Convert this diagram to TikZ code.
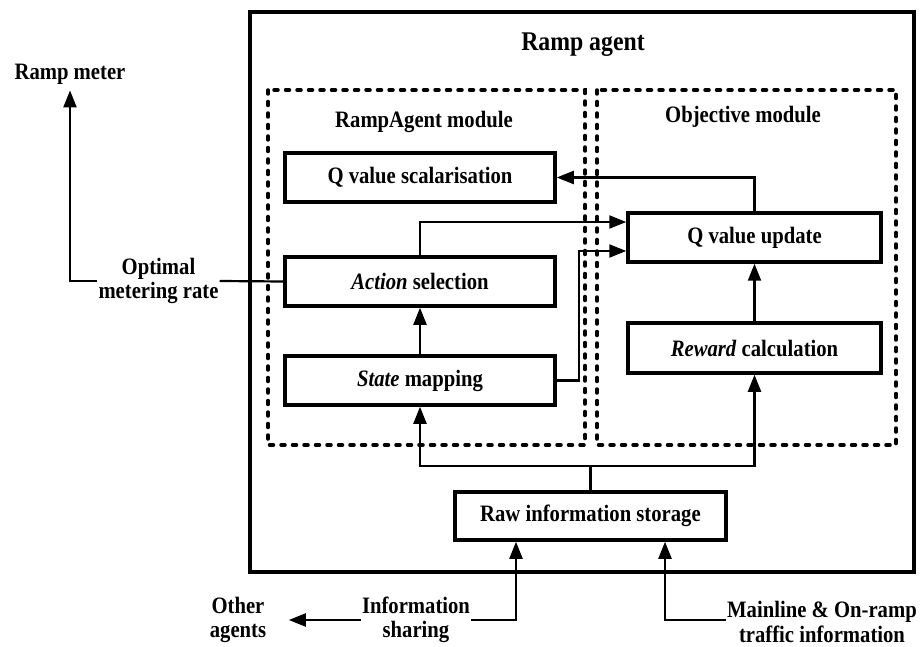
\documentclass[tikz,border=0pt]{standalone}
\usepackage{fontspec}
\setmainfont{Liberation Serif}[FakeStretch=0.88]
\usetikzlibrary{arrows.meta,calc}

\tikzset{
  unit/.style={draw, line width=3.5pt, rectangle, align=center, inner sep=0pt,
    font=\bfseries\fontsize{23.5}{25}\selectfont},
  module/.style={line width=3.5pt, line cap=round, dash pattern=on 4pt off 7.5pt},
  label/.style={align=center, inner sep=1pt, font=\bfseries\fontsize{23.5}{24.5}\selectfont},
  link/.style={line width=2.2pt},
  arr/.style={link, -{Triangle[length=17pt,width=13pt]}},
}

\begin{document}
\begin{tikzpicture}[x=1pt,y=-1pt]
  \useasboundingbox (0,0) rectangle (924,647);

  % agent frame and its two modules
  \draw[line width=3.8pt] (250,12) rectangle (914,572);
  \node[font=\bfseries\fontsize{27}{30}\selectfont] (title) at (583,45) {Ramp agent};
  \draw[module] (268,90) rectangle (585,445);
  \draw[module] (597,90) rectangle (896,445);
  \node[label] (ramod) at (424,122) {RampAgent module};
  \node[label] (objmod) at (743,117) {Objective module};

  % processing units
  \node[unit, minimum width=270pt, minimum height=49pt] (qs)  at (420,177.5) {Q value scalarisation};
  \node[unit, minimum width=270pt, minimum height=49pt] (as)  at (420,281.5) {\textit{Action} selection};
  \node[unit, minimum width=270pt, minimum height=49pt] (sm)  at (420,380.5) {\textit{State} mapping};
  \node[unit, minimum width=253pt, minimum height=49pt] (qu)  at (754.5,237.5) {Q value update};
  \node[unit, minimum width=253pt, minimum height=50pt] (rc)  at (754.5,348) {\textit{Reward} calculation};
  \node[unit, minimum width=271pt, minimum height=48pt] (raw) at (590.5,516) {Raw information storage};

  % external labels
  \node[label] (rm)    at (70,74)     {Ramp meter};
  \node[label] (opt)   at (158.5,281) {Optimal\\metering rate};
  \node[label] (other) at (238,620)   {Other\\agents};
  \node[label] (info)  at (416,620)   {Information\\sharing};
  \node[label] (main)  at (822,622)   {Mainline \& On-ramp\\traffic information};

  % internal flows
  \draw[arr] (qu.north) |- (qs.east);
  \draw[arr] (as.north) |- ($(qu.west)+(0,-15.5)$);
  \draw[arr] (sm.east) -- ++(22,0) |- ($(qu.west)+(0,13.5)$);
  \draw[arr] (sm.north) -- (as.south);
  \draw[arr] (rc.north) -- (qu.south);
  \draw[link] (raw.north) -- ++(0,-24) coordinate (split);
  \draw[arr] (split) -| (sm.south);
  \draw[arr] (split) -| (rc.south);

  % output to the ramp meter
  \draw[link] (as.west) -- (opt.east);
  \draw[arr, shorten >=5pt] (opt.west) -| (rm.south);

  % inputs and information sharing
  \draw[arr] (info.west) -- ++(-72,0);
  \draw[arr] (info.east) -| ($(raw.south)+(-74.5,0)$);
  \draw[arr] (main.west |- info.east) -| ($(raw.south)+(74.5,0)$);
\end{tikzpicture}
\end{document}
